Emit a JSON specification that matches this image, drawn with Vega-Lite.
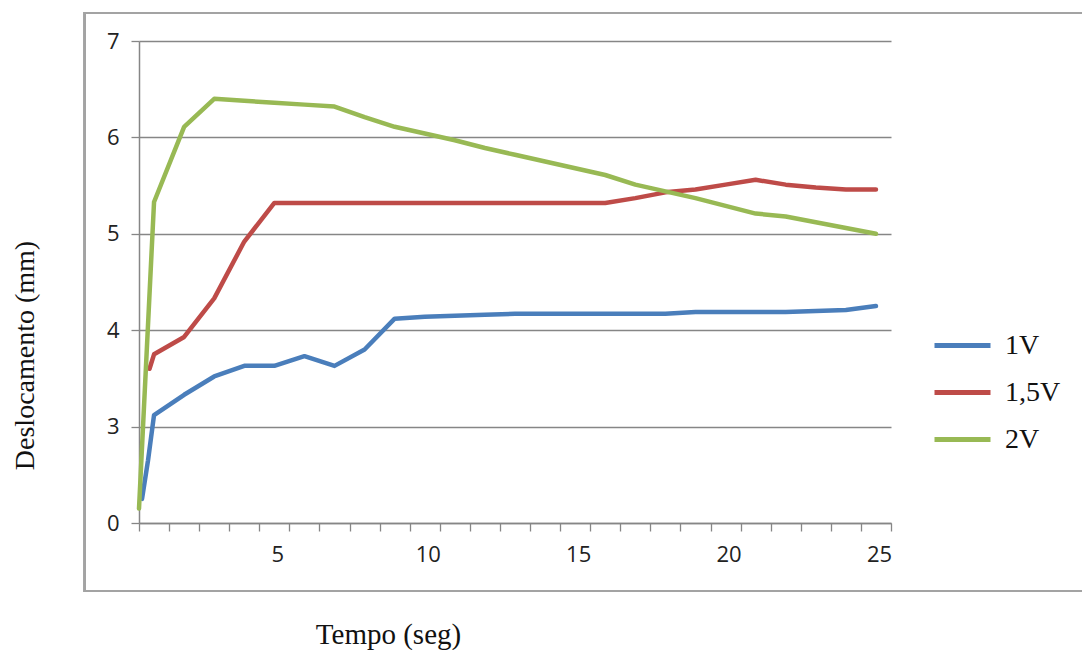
{
  "$schema": "https://vega.github.io/schema/vega-lite/v6.json",
  "width": 752,
  "height": 482,
  "autosize": {"type": "none"},
  "padding": {"left": 139, "top": 41, "right": 191, "bottom": 127},
  "background": "white",
  "config": {"view": {"stroke": null}, "axis": {"labelOverlap": false, "labelFlush": false}},
  "data": {"values": [
    {"t": 0.6, "v": 2.25, "s": "1V"},
    {"t": 0.8, "v": 2.65, "s": "1V"},
    {"t": 1, "v": 3.12, "s": "1V"},
    {"t": 2, "v": 3.33, "s": "1V"},
    {"t": 3, "v": 3.52, "s": "1V"},
    {"t": 4, "v": 3.63, "s": "1V"},
    {"t": 5, "v": 3.63, "s": "1V"},
    {"t": 6, "v": 3.73, "s": "1V"},
    {"t": 7, "v": 3.63, "s": "1V"},
    {"t": 8, "v": 3.8, "s": "1V"},
    {"t": 9, "v": 4.12, "s": "1V"},
    {"t": 10, "v": 4.14, "s": "1V"},
    {"t": 11, "v": 4.15, "s": "1V"},
    {"t": 12, "v": 4.16, "s": "1V"},
    {"t": 13, "v": 4.17, "s": "1V"},
    {"t": 14, "v": 4.17, "s": "1V"},
    {"t": 15, "v": 4.17, "s": "1V"},
    {"t": 16, "v": 4.17, "s": "1V"},
    {"t": 17, "v": 4.17, "s": "1V"},
    {"t": 18, "v": 4.17, "s": "1V"},
    {"t": 19, "v": 4.19, "s": "1V"},
    {"t": 20, "v": 4.19, "s": "1V"},
    {"t": 21, "v": 4.19, "s": "1V"},
    {"t": 22, "v": 4.19, "s": "1V"},
    {"t": 23, "v": 4.2, "s": "1V"},
    {"t": 24, "v": 4.21, "s": "1V"},
    {"t": 25, "v": 4.25, "s": "1V"},
    {"t": 0.85, "v": 3.6, "s": "1,5V"},
    {"t": 1, "v": 3.75, "s": "1,5V"},
    {"t": 2, "v": 3.93, "s": "1,5V"},
    {"t": 3, "v": 4.33, "s": "1,5V"},
    {"t": 4, "v": 4.92, "s": "1,5V"},
    {"t": 5, "v": 5.32, "s": "1,5V"},
    {"t": 6, "v": 5.32, "s": "1,5V"},
    {"t": 7, "v": 5.32, "s": "1,5V"},
    {"t": 8, "v": 5.32, "s": "1,5V"},
    {"t": 9, "v": 5.32, "s": "1,5V"},
    {"t": 10, "v": 5.32, "s": "1,5V"},
    {"t": 11, "v": 5.32, "s": "1,5V"},
    {"t": 12, "v": 5.32, "s": "1,5V"},
    {"t": 13, "v": 5.32, "s": "1,5V"},
    {"t": 14, "v": 5.32, "s": "1,5V"},
    {"t": 15, "v": 5.32, "s": "1,5V"},
    {"t": 16, "v": 5.32, "s": "1,5V"},
    {"t": 17, "v": 5.37, "s": "1,5V"},
    {"t": 18, "v": 5.43, "s": "1,5V"},
    {"t": 19, "v": 5.46, "s": "1,5V"},
    {"t": 20, "v": 5.51, "s": "1,5V"},
    {"t": 21, "v": 5.56, "s": "1,5V"},
    {"t": 22, "v": 5.51, "s": "1,5V"},
    {"t": 23, "v": 5.48, "s": "1,5V"},
    {"t": 24, "v": 5.46, "s": "1,5V"},
    {"t": 25, "v": 5.46, "s": "1,5V"},
    {"t": 0.5, "v": 2.15, "s": "2V"},
    {"t": 1, "v": 5.33, "s": "2V"},
    {"t": 2, "v": 6.11, "s": "2V"},
    {"t": 3, "v": 6.4, "s": "2V"},
    {"t": 4, "v": 6.38, "s": "2V"},
    {"t": 5, "v": 6.36, "s": "2V"},
    {"t": 6, "v": 6.34, "s": "2V"},
    {"t": 7, "v": 6.32, "s": "2V"},
    {"t": 8, "v": 6.21, "s": "2V"},
    {"t": 9, "v": 6.11, "s": "2V"},
    {"t": 10, "v": 6.04, "s": "2V"},
    {"t": 11, "v": 5.97, "s": "2V"},
    {"t": 12, "v": 5.89, "s": "2V"},
    {"t": 13, "v": 5.82, "s": "2V"},
    {"t": 14, "v": 5.75, "s": "2V"},
    {"t": 15, "v": 5.68, "s": "2V"},
    {"t": 16, "v": 5.61, "s": "2V"},
    {"t": 17, "v": 5.51, "s": "2V"},
    {"t": 18, "v": 5.44, "s": "2V"},
    {"t": 19, "v": 5.37, "s": "2V"},
    {"t": 20, "v": 5.29, "s": "2V"},
    {"t": 21, "v": 5.21, "s": "2V"},
    {"t": 22, "v": 5.18, "s": "2V"},
    {"t": 23, "v": 5.12, "s": "2V"},
    {"t": 24, "v": 5.06, "s": "2V"},
    {"t": 25, "v": 5.0, "s": "2V"}
  ]},
  "layer": [
    {
      "mark": {"type": "line", "strokeWidth": 4.5, "strokeJoin": "round", "strokeCap": "round"},
      "encoding": {
        "x": {
          "field": "t", "type": "quantitative",
          "scale": {"domain": [0.5, 25.5], "nice": false, "zero": false},
          "axis": {
            "title": "Tempo (seg)",
            "values": [0.5,1.5,2.5,3.5,4.5,5.5,6.5,7.5,8.5,9.5,10.5,11.5,12.5,13.5,14.5,15.5,16.5,17.5,18.5,19.5,20.5,21.5,22.5,23.5,24.5,25.5],
            "tickCount": 26,
            "labelExpr": "(datum.value % 5 == 0.5 && datum.value > 1) ? format(datum.value - 0.5, 'd') : ''",
            "labelOffset": -12,
            "labelOverlap": false,
            "labelFlush": false,
            "labelFont": "Open Sans",
            "labelFontSize": 22,
            "labelColor": "#222222",
            "labelPadding": 13,
            "tickSize": 8,
            "tickColor": "#868686",
            "tickWidth": 1.3,
            "domainColor": "#868686",
            "domainWidth": 1.5,
            "grid": false,
            "titleFont": "Liberation Serif",
            "titleFontSize": 29,
            "titleFontWeight": "normal",
            "titleColor": "#111111",
            "titleX": 249,
            "titleY": 120,
            "titleAlign": "center",
            "titleBaseline": "alphabetic"
          }
        },
        "y": {
          "field": "v", "type": "quantitative",
          "scale": {"domain": [2, 7], "nice": false, "zero": false},
          "axis": {
            "title": "Deslocamento (mm)",
            "values": [2, 3, 4, 5, 6, 7],
            "labelExpr": "datum.value == 2 ? '0' : format(datum.value, 'd')",
            "labelOverlap": false,
            "labelFont": "Open Sans",
            "labelFontSize": 22,
            "labelColor": "#222222",
            "labelPadding": 12,
            "tickSize": 8,
            "tickColor": "#868686",
            "tickWidth": 1.3,
            "domainColor": "#868686",
            "domainWidth": 1.5,
            "grid": true,
            "gridColor": "#868686",
            "gridWidth": 1.3,
            "titleFont": "Liberation Serif",
            "titleFontSize": 28,
            "titleFontWeight": "normal",
            "titleColor": "#111111",
            "titleAngle": -90,
            "titleX": -106,
            "titleY": 314,
            "titleAlign": "center",
            "titleBaseline": "alphabetic"
          }
        },
        "color": {
          "field": "s", "type": "nominal",
          "scale": {"domain": ["1V", "1,5V", "2V"], "range": ["#4a7ebb", "#be4b48", "#98b954"]},
          "legend": {
            "title": null,
            "orient": "none",
            "legendX": 793,
            "legendY": 274,
            "symbolType": "stroke",
            "symbolSize": 3136,
            "symbolStrokeWidth": 5,
            "labelFont": "Liberation Serif",
            "labelFontSize": 28,
            "labelColor": "#111111",
            "labelOffset": 12,
            "rowPadding": 2
          }
        },
        "order": {"field": "t", "type": "quantitative"}
      }
    },
    {
      "mark": {"type": "rect", "fill": null, "stroke": "#a3a3a3", "strokeWidth": 2, "clip": false},
      "encoding": {
        "x": {"datum": -1.3, "type": "quantitative"},
        "x2": {"datum": 33},
        "y": {"datum": 7.29, "type": "quantitative"},
        "y2": {"datum": 1.295}
      }
    }
  ]
}
